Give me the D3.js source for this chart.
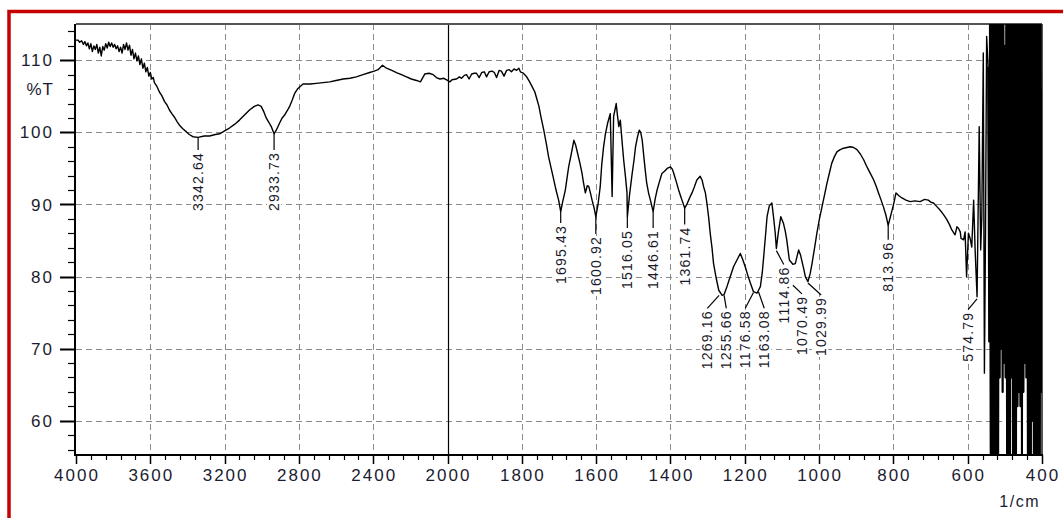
<!DOCTYPE html>
<html><head><meta charset="utf-8">
<script src="https://cdn.jsdelivr.net/npm/d3@7"></script>
<style>
html,body{margin:0;padding:0;background:#fff;overflow:hidden;}
svg{display:block;}
</style></head><body>
<svg id="chart" width="1063" height="518"></svg>
<script>
// ---------- DATA ----------
const wavenumber = [
4000,3990,3980,3970,3960,3952,3944,3936,3928,3920,3912,3904,3896,3888,3880,3872,3864,3856,3848,3840,
3832,3824,3816,3808,3800,3792,3784,3776,3768,3760,3752,3744,3736,3728,3720,3712,3704,3696,3688,3680,
3672,3664,3656,3648,3640,3632,3624,3616,3608,3600,3592,3584,3578,3565,3551,3538,3524,3510,3497,3484,
3470,3456,3443,3425,3407,3390,3371,3342.6,3310,3281,3250,3227,3200,3174,3147,3120,3093,3066,3040,3020,
3003,2988,2976,2962,2949,2934,2922,2904,2890,2877,2863,2850,2836,2823,2808,2796,2778,2740,2706,2670,
2634,2600,2562,2525,2491,2455,2419,2395,2374,2350,2329,2300,2275,2248,2221,2195,2167,2146,2122,2100,
2077,2060,2041,2020,2000,1994,1988,1976,1968,1962,1955,1949,1942,1935,1928,1922,1915,1908,1901,1895,
1888,1880,1874,1868,1861,1855,1848,1841,1834,1828,1821,1814,1808,1804,1796,1787,1779,1772,1765,1760,
1754,1748,1741,1734,1728,1721,1714,1708,1701,1695.4,1690,1683,1678,1674,1667,1660,1655,1650,1644,1638,
1634,1629,1624,1620,1615,1611,1605,1600.9,1595,1589,1585,1580,1575,1569,1562,1557,1553,1546,1543,1539,
1535,1530,1526,1521,1517,1516,1510,1503,1498,1494,1489,1484,1480,1476,1472,1468,1464,1459,1453,1446.6,
1441,1436,1430,1423,1416,1409,1400,1395,1391,1384,1378,1373,1369,1361.7,1356,1351,1346,1342,1336,1329,
1320,1315,1311,1306,1302,1297,1293,1288,1284,1277,1270,1261,1255.7,1248,1239,1230,1221,1212,1205,1199,
1192,1185,1176.6,1167,1163,1158,1153,1149,1144,1140,1134,1127,1122,1118,1114.9,1110,1103,1096,1091,1087,
1080,1070.5,1064,1055,1050,1046,1041,1037,1030,1024,1019,1012,1006,999,992,985,979,972,966,959,
952,943,934,925,916,907,898,889,880,873,867,860,853,846,840,833,827,820,814,808,
801,797,793,785,777,766,755,742,728,716,706,699,692,683,674,665,656,649,643,638,
634,629,625,620,618,611,607,603,598,593,589,584,580,574.8,569,565,562,558,555,552,
549,545,542,540,538,536,534,532,530,528,526,524,522,520,518,516,514,512,510,508,
506,504,502,500,498,496,494,492,490,488,486,484,482,480,478,476,474,472,470,468,
466,464,462,460,458,456,454,452,450,448,446,444,442,440,438,436,434,432,430,428,
426,424,422,420,418,416,414,412,410,408,406,404,402,400
];
const transmittance = [
112.8,112.8,112.5,112.7,112.2,112.6,112.0,112.4,111.6,112.3,111.2,112.0,111.5,112.2,111.0,111.8,110.6,111.9,111.4,112.3,
111.7,112.5,111.9,112.4,111.8,112.2,111.6,112.0,111.2,111.8,111.0,112.2,111.5,112.4,111.4,112.1,110.7,111.5,110.2,111.0,
109.9,110.6,109.4,110.2,108.9,109.6,108.4,109.0,107.8,108.3,107.4,107.6,106.9,106.4,105.6,105.1,104.3,103.8,103.1,102.6,
102.1,101.5,101.0,100.5,100.1,99.7,99.4,99.3,99.5,99.5,99.7,99.8,100.2,100.6,101.1,101.7,102.4,103.1,103.6,103.8,
103.6,102.8,102.0,101.4,100.8,99.8,100.3,101.3,102.0,102.4,103.0,103.6,104.5,105.4,106.0,106.3,106.7,106.7,106.8,106.9,
107.0,107.2,107.4,107.5,107.7,108.0,108.3,108.5,108.7,109.3,108.9,108.6,108.3,108.0,107.7,107.4,107.2,107.0,108.1,108.2,
108.0,107.6,107.4,107.5,107.2,107.0,107.3,107.4,107.7,107.5,107.9,108.0,107.4,108.1,108.2,108.2,107.6,108.3,108.4,107.7,
108.4,108.5,108.3,107.6,108.6,108.5,107.8,108.6,108.7,108.4,108.8,108.6,108.9,108.4,108.2,107.7,107.0,106.3,105.6,104.7,
103.6,102.0,100.3,98.4,96.6,95.0,93.4,92.0,90.6,89.0,90.4,92.0,93.8,95.2,97.0,98.9,98.2,97.1,95.8,94.3,
93.0,91.6,92.6,92.5,91.5,90.6,89.4,88.3,90.0,92.5,95.5,98.0,99.8,101.3,102.6,91.1,102.2,104.0,102.5,100.8,
101.7,98.6,96.2,93.8,91.6,88.3,91.4,94.3,96.2,98.0,99.3,100.3,100.0,98.9,96.8,94.8,93.0,91.6,90.4,89.0,
90.8,92.0,93.1,94.3,94.6,95.0,95.2,94.9,94.3,93.1,92.0,91.2,90.6,89.5,90.0,90.6,91.2,91.6,92.4,93.4,
93.9,93.4,92.5,91.6,90.2,88.1,86.0,83.9,81.8,79.8,78.1,77.4,77.5,78.6,80.0,81.4,82.3,83.2,82.3,81.4,
80.2,79.1,77.9,77.7,78.1,78.6,80.5,82.8,85.8,88.3,89.8,90.2,88.0,86.0,83.9,86.0,88.3,87.4,86.3,85.1,
82.3,81.7,81.8,83.7,83.0,82.1,81.0,80.0,79.3,80.4,81.8,84.0,86.0,88.0,89.7,91.4,92.9,94.4,95.7,96.6,
97.3,97.6,97.8,97.9,98.0,97.9,97.6,97.0,96.2,95.4,94.8,94.1,93.4,92.5,91.6,90.6,89.7,88.5,87.1,88.3,
89.7,90.6,91.6,91.2,90.9,90.6,90.4,90.5,90.4,90.7,90.6,90.3,90.2,89.7,89.2,88.6,87.9,87.2,86.5,86.1,
85.8,86.9,86.7,86.2,85.3,85.1,86.2,80.0,86.0,85.2,84.1,90.6,83.7,77.2,100.8,83.7,88.3,111.0,66.6,86.5,
113.3,109.1,71.0,118,52,118,52,118,52,118,52,118,52,118,52,118,66,118,70,118,
64,118,68,112,66,118,52,118,52,118,52,118,66,118,52,118,52,118,52,118,
62,118,64,118,62,118,52,118,64,118,68,118,66,118,52,118,52,118,52,118,
60,118,52,118,52,118,52,118,52,118,52,118,64,106
];

const xTickValues = [4000,3600,3200,2800,2400,2000,1800,1600,1400,1200,1000,800,600,400];
const xTickLabels = ["4000","3600","3200","2800","2400","2000","1800","1600","1400","1200","1000","800","600","400"];
const yTickValues = [60,70,80,90,100,110];
const yTickLabels = ["60","70","80","90","100","110"];
const yUnitLabel = "%T";
const yUnitValue = 106;
const xUnitLabel = "1/cm";
const noiseStart = 548; // wavenumber below which the trace is detector noise

const peakText    = ["3342.64","2933.73","1695.43","1600.92","1516.05","1446.61","1361.74","1269.16","1255.66","1176.58","1163.08","1114.86","1070.49","1029.99","813.96","574.79"];
const peakWn      = [3342.64,2933.73,1695.43,1600.92,1516.05,1446.61,1361.74,1269.16,1255.66,1176.58,1163.08,1114.86,1070.49,1029.99,813.96,574.79];
const peakT       = [99.3,99.8,89.0,88.3,88.3,89.0,89.5,77.4,77.4,77.8,77.9,83.6,78.8,79.1,87.1,76.9];
const labelWn     = [3342.64,2933.73,1695.43,1600.92,1516.05,1446.61,1361.74,1300.8,1249.7,1198.7,1147.6,1095.1,1046.2,994.3,813.96,599];
const labelT      = [97.56,97.56,87.43,85.91,86.74,86.74,87.23,75.6,75.6,75.6,75.6,81.68,77.6,77.45,85.1,75.4];

// ---------- LAYOUT ----------
const plot = {left: 76, right: 1042, top: 24, bottom: 455};
const splitX = plot.left + (plot.right - plot.left) * 1000 / 2600;
const x = d3.scaleLinear().domain([4000, 2000, 400]).range([plot.left, splitX, plot.right]);
const y = d3.scaleLinear().domain([55.25, 115.03]).range([plot.bottom, plot.top]);

const svg = d3.select("#chart");
const FONT = "'Liberation Sans', Arial, sans-serif";
const TEXT = "#1c1c30";

// red outer border
svg.append("rect").attr("x", 9).attr("y", 11.5).attr("width", 1200).attr("height", 700)
  .attr("fill", "none").attr("stroke", "#c40000").attr("stroke-width", 3.5);

svg.append("defs").append("clipPath").attr("id", "clip")
  .append("rect").attr("x", plot.left).attr("y", plot.top)
  .attr("width", plot.right - plot.left).attr("height", plot.bottom - plot.top);

// grid
const grid = svg.append("g").attr("stroke", "#8a8a8a").attr("stroke-width", 1).attr("stroke-dasharray", "6,4");
grid.selectAll("line.v").data(xTickValues.filter(v => v !== 4000 && v !== 2000 && v !== 400)).enter()
  .append("line").attr("x1", d => Math.round(x(d)) + 0.5).attr("x2", d => Math.round(x(d)) + 0.5)
  .attr("y1", plot.top).attr("y2", plot.bottom);
grid.selectAll("line.h").data(yTickValues).enter()
  .append("line").attr("y1", d => Math.round(y(d)) + 0.5).attr("y2", d => Math.round(y(d)) + 0.5)
  .attr("x1", plot.left).attr("x2", plot.right);

// 2000 separator
svg.append("line").attr("x1", Math.round(x(2000)) + 0.5).attr("x2", Math.round(x(2000)) + 0.5)
  .attr("y1", plot.top).attr("y2", plot.bottom).attr("stroke", "#000").attr("stroke-width", 1.2);

// frame
svg.append("line").attr("x1", plot.left).attr("x2", plot.right).attr("y1", plot.top).attr("y2", plot.top)
  .attr("stroke", "#555").attr("stroke-width", 2);
svg.append("line").attr("x1", plot.right).attr("x2", plot.right).attr("y1", plot.top).attr("y2", plot.bottom)
  .attr("stroke", "#555").attr("stroke-width", 2);
svg.append("line").attr("x1", plot.left - 1).attr("x2", plot.left - 1).attr("y1", plot.top).attr("y2", plot.bottom + 1)
  .attr("stroke", "#000").attr("stroke-width", 2);
svg.append("line").attr("x1", plot.left - 2).attr("x2", plot.right + 1).attr("y1", plot.bottom).attr("y2", plot.bottom)
  .attr("stroke", "#000").attr("stroke-width", 2);

// x ticks
const xMinor = d3.range(4000, 2000, -80).concat(d3.range(2000, 399, -40));
svg.append("g").selectAll("line").data(xMinor).enter().append("line")
  .attr("x1", d => Math.round(x(d)) + 0.5).attr("x2", d => Math.round(x(d)) + 0.5)
  .attr("y1", plot.bottom).attr("y2", d => xTickValues.includes(d) ? plot.bottom + 9 : plot.bottom + 5)
  .attr("stroke", "#000").attr("stroke-width", d => xTickValues.includes(d) ? 1.5 : 1.2);
svg.append("g").selectAll("text").data(xTickValues).enter().append("text")
  .attr("x", d => x(d) + 1).attr("y", 481).attr("text-anchor", "middle")
  .attr("font-family", FONT).attr("font-size", 17).attr("letter-spacing", 2).attr("fill", TEXT)
  .text((d, i) => xTickLabels[i]);
svg.append("text").attr("x", plot.right - 2).attr("y", 507).attr("text-anchor", "end")
  .attr("font-family", FONT).attr("font-size", 16).attr("letter-spacing", 1.5).attr("fill", TEXT).text(xUnitLabel);

// y ticks
const yMinor = d3.range(56, 115, 2);
svg.append("g").selectAll("line").data(yMinor).enter().append("line")
  .attr("y1", d => Math.round(y(d)) + 0.5).attr("y2", d => Math.round(y(d)) + 0.5)
  .attr("x1", plot.left).attr("x2", d => yTickValues.includes(d) ? plot.left - 16 : plot.left - 8)
  .attr("stroke", "#000").attr("stroke-width", d => yTickValues.includes(d) ? 2 : 1.2);
svg.append("g").selectAll("text").data(yTickValues).enter().append("text")
  .attr("x", 54).attr("y", d => y(d)).attr("dy", "0.36em").attr("text-anchor", "end")
  .attr("font-family", FONT).attr("font-size", 17).attr("letter-spacing", 2).attr("fill", TEXT)
  .text((d, i) => yTickLabels[i]);
svg.append("text").attr("x", 54).attr("y", y(yUnitValue)).attr("dy", "0.36em").attr("text-anchor", "end")
  .attr("font-family", FONT).attr("font-size", 17).attr("letter-spacing", 1).attr("fill", TEXT).text(yUnitLabel);

// spectrum
const pts = wavenumber.map((w, i) => [w, transmittance[i]]);
const lineGen = d3.line().x(d => x(d[0])).y(d => y(d[1]));
const sg = svg.append("g").attr("clip-path", "url(#clip)");
sg.append("path").datum(pts).attr("d", lineGen)
  .attr("fill", "none").attr("stroke", "#000").attr("stroke-width", 1.4).attr("stroke-linejoin", "round");
sg.append("path").datum(pts.filter(p => p[0] <= noiseStart)).attr("d", lineGen)
  .attr("fill", "none").attr("stroke", "#000").attr("stroke-width", 2).attr("stroke-linejoin", "round");

// peak labels
const peaks = peakText.map((t, i) => ({t, w: peakWn[i], v: peakT[i], lw: labelWn[i], lv: labelT[i]}));
const pg = svg.append("g");
const labels = pg.selectAll("g.lab").data(peaks).enter().append("g")
  .attr("transform", d => `translate(${x(d.lw)},${y(d.lv) + 2}) rotate(-90)`);
const texts = labels.append("text")
  .attr("text-anchor", "end").attr("dy", "0.36em")
  .attr("font-family", FONT).attr("font-size", 14).attr("letter-spacing", 1.2).attr("fill", "#1a1a2a")
  .text(d => d.t);
texts.each(function() {
  const b = this.getBBox();
  d3.select(this.parentNode).insert("rect", "text")
    .attr("x", b.x - 1).attr("y", b.y + 1).attr("width", b.width + 1).attr("height", b.height - 2)
    .attr("fill", "#fff");
});
pg.selectAll("path").data(peaks).enter().append("path")
  .attr("d", d => d3.line()([[x(d.w), y(d.v)], [x(d.lw), y(d.lv)]]))
  .attr("stroke", "#000").attr("stroke-width", 1.2).attr("fill", "none");
</script>
</body></html>
